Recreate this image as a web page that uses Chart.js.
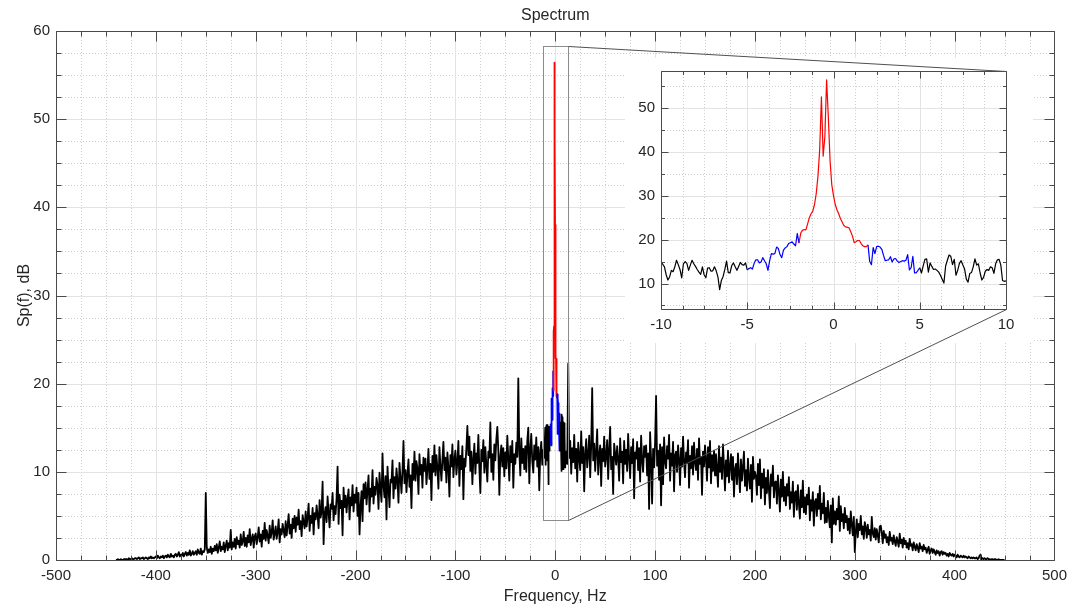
<!DOCTYPE html>
<html>
<head>
<meta charset="utf-8">
<title>Spectrum</title>
<script src="https://cdn.jsdelivr.net/npm/chart.js@4.4.1/dist/chart.umd.min.js"></script>
<style>
	html, body { margin: 0; padding: 0; background: #fff; }
	#wrap { position: relative; width: 1074px; height: 606px; }
	#wrap canvas { position: absolute; left: 0; top: 0; }
</style>
</head>
<body>
<div id="wrap">
	<canvas id="chartMain" width="1074" height="606"></canvas>
	<canvas id="chartZoom" width="1074" height="606"></canvas>
</div>
<script>
// ---- data ----
// spectrum below -10 Hz, 1 Hz step starting at -440 Hz
const negStart = -440;
const negVals = [
	0, 0, 0.1, 0, 0, 0.1, 0, 0, 0.1, 0.1,
	0.1, 0.1, 0, 0.2, 0.1, 0.1, 0.2, 0.1, 0.1, 0.2,
	0.2, 0.1, 0.2, 0.3, 0.1, 0.2, 0.2, 0.3, 0.1, 0.2,
	0.3, 0.2, 0.1, 0.3, 0.2, 0.4, 0.2, 0.3, 0.2, 0.3,
	0.4, 0.2, 0.5, 0.3, 0.2, 0.4, 0.3, 0.5, 0.2, 0.4,
	0.5, 0.3, 0.6, 0.4, 0.3, 0.7, 0.4, 0.5, 0.3, 0.6,
	0.7, 0.4, 0.6, 0.9, 0.4, 0.6, 0.5, 0.8, 0.4, 0.7,
	0.9, 0.5, 0.8, 0.6, 1.1, 0.5, 0.7, 1.0, 0.6, 0.8,
	1.0, 0.6, 1.2, 0.8, 0.7, 1.3, 0.6, 1.0, 0.9, 1.2,
	7.6, 1.4, 0.8, 1.2, 0.9, 1.5, 0.7, 1.3, 1.0, 1.6,
	1.1, 1.8, 0.8, 1.4, 2.1, 1.0, 1.5, 1.2, 2.0, 0.9,
	1.6, 2.2, 1.1, 1.9, 1.4, 3.4, 1.2, 2.0, 1.5, 2.4,
	1.3, 2.6, 1.8, 2.2, 1.4, 2.9, 1.7, 2.1, 3.2, 1.6,
	2.5, 1.5, 2.8, 2.0, 3.5, 1.7, 2.4, 2.9, 1.4, 2.7,
	3.0, 1.8, 2.6, 3.7, 2.1, 2.9, 1.5, 3.3, 2.4, 4.2,
	2.2, 3.4, 2.7, 1.9, 3.9, 2.5, 3.1, 4.5, 2.3, 3.0,
	3.8, 2.4, 3.2, 4.6, 2.0, 3.5, 2.9, 4.1, 3.3, 2.6,
	4.4, 2.8, 3.9, 5.2, 3.0, 4.0, 2.5, 4.7, 3.6, 5.0,
	3.2, 4.8, 4.0, 5.7, 3.5, 4.4, 2.7, 5.1, 4.3, 3.6,
	5.5, 3.8, 4.9, 6.4, 3.3, 5.0, 4.2, 5.9, 2.9, 5.3,
	4.6, 6.2, 5.0, 3.6, 6.8, 4.8, 5.5, 8.9, 1.8, 5.2,
	6.0, 4.3, 7.2, 5.4, 3.7, 6.3, 5.8, 7.6, 4.5, 6.1,
	5.2, 7.0, 10.6, 4.1, 7.4, 5.9, 6.7, 2.8, 8.2, 6.0,
	7.3, 5.4, 6.9, 8.0, 4.6, 7.1, 6.2, 8.5, 5.5, 7.4,
	6.5, 8.2, 5.0, 7.6, 2.9, 6.1, 7.8, 4.4, 8.6, 7.0,
	8.8, 6.3, 7.9, 9.6, 5.5, 8.1, 7.2, 10.2, 6.4, 8.3,
	7.4, 9.3, 8.5, 5.8, 9.9, 8.0, 6.6, 12.1, 8.4, 7.1,
	9.5, 4.6, 10.6, 8.2, 6.0, 9.1, 8.8, 11.3, 7.0, 9.4,
	8.1, 10.4, 9.0, 6.5, 11.0, 9.3, 7.6, 10.1, 13.5, 8.7,
	10.2, 7.7, 9.8, 11.4, 8.3, 9.6, 5.9, 10.9, 9.1, 12.3,
	9.0, 11.2, 10.4, 7.5, 12.0, 9.7, 10.8, 8.2, 11.6, 10.1,
	11.5, 8.6, 10.3, 12.6, 9.2, 10.9, 6.8, 11.8, 10.0, 13.0,
	9.6, 11.9, 10.4, 8.1, 12.8, 10.7, 9.0, 11.3, 13.4, 10.2,
	11.6, 8.8, 12.2, 10.5, 7.2, 11.9, 10.6, 13.1, 9.4, 11.4,
	12.4, 9.7, 11.1, 13.5, 8.4, 11.8, 10.3, 12.9, 6.9, 11.5,
	10.6, 12.7, 15.2, 11.9, 14.0, 10.1, 12.3, 8.6, 11.4, 13.2,
	9.8, 12.1, 11.0, 14.2, 10.4, 7.6, 12.5, 11.2, 13.6, 9.9,
	12.8, 10.7, 8.9, 12.3, 11.6, 15.6, 10.0, 12.0, 9.1, 13.1,
	11.3, 13.7, 15.1, 12.4, 7.4, 11.8, 13.0, 10.6, 12.7, 9.5,
	12.2, 10.4, 14.1, 11.5, 9.0, 12.9, 11.1, 13.5, 8.2, 12.0,
	10.9, 13.3, 11.7, 20.6, 12.4, 9.6, 13.8, 11.0, 12.6, 10.3,
	12.9, 10.0, 13.5, 15.0, 8.7, 12.5, 14.3, 11.2, 9.9, 13.0,
	11.4, 13.9, 10.6, 12.8, 7.9, 12.2, 13.4, 10.8, 12.5, 11.6,
];

// centre of the spectrum, -10 .. 10 Hz in 0.1 Hz steps (also the zoom panel)
const zoomStart = -10;
const zoomStep = 0.1;
const zoomVals = [
	15.0, 14.4, 13.8, 12.0, 10.8, 11.5, 13.0, 12.7, 13.8, 15.3,
	14.3, 13.2, 11.3, 14.5, 15.0, 14.6, 13.0, 14.2, 15.3, 14.5,
	13.9, 13.2, 12.6, 12.1, 13.8, 12.0, 11.3, 13.5, 13.6, 12.8,
	12.9, 13.8, 12.9, 11.5, 8.6, 10.7, 11.6, 13.2, 15.1, 12.5,
	12.4, 14.1, 14.7, 13.8, 13.0, 13.9, 14.8, 14.3, 14.2, 14.7,
	13.1, 13.4, 13.6, 13.3, 14.6, 15.4, 15.4, 14.7, 14.9, 15.9,
	15.2, 14.5, 13.0, 15.2, 16.8, 16.7, 16.8, 18.3, 18.0, 16.6,
	15.9, 17.6, 18.1, 18.4, 19.1, 19.3, 19.5, 19.0, 18.6, 21.4,
	19.2, 21.5, 22.1, 22.3, 22.2, 23.6, 25.0, 25.9, 26.5, 28.0,
	30.5, 34.5, 40.5, 52.5, 39.0, 43.5, 56.4, 48.0, 38.0, 32.5,
	30.0, 28.0, 26.8, 25.9, 24.8, 24.0, 23.2, 22.9, 22.8, 22.7,
	21.8, 20.8, 19.3, 19.5, 19.8, 19.8, 19.1, 18.6, 18.4, 18.4,
	18.8, 15.0, 14.3, 18.2, 16.8, 18.4, 18.5, 18.3, 17.8, 16.4,
	15.2, 15.3, 15.4, 16.1, 14.9, 15.6, 15.7, 15.1, 14.8, 15.0,
	15.2, 15.1, 15.3, 16.6, 13.1, 13.6, 16.2, 12.4, 12.5, 13.0,
	13.6, 12.4, 14.0, 15.5, 15.6, 12.6, 14.7, 13.9, 13.2, 13.3,
	13.0, 12.6, 11.9, 11.0, 10.1, 14.0, 15.3, 16.5, 16.2, 14.3,
	15.5, 11.9, 13.0, 14.6, 15.2, 14.2, 13.3, 11.0, 10.3, 12.3,
	12.5, 13.8, 15.6, 14.2, 14.5, 12.4, 10.8, 11.4, 12.8, 13.2,
	13.0, 13.8, 13.6, 12.3, 14.5, 15.4, 15.5, 14.2, 10.7, 10.5,
	10.6,
];

// spectrum above 10 Hz, 1 Hz step starting at 11 Hz
const posStart = 11;
const posVals = [
	12.3, 10.9, 22.3, 11.6, 13.5, 9.8, 12.7, 11.1, 14.2, 10.4,
	12.6, 8.9, 13.3, 11.7, 10.2, 14.6, 11.0, 12.8, 7.8, 12.1,
	13.7, 10.5, 12.0, 14.1, 9.4, 12.9, 19.5, 11.3, 13.2, 10.1,
	12.4, 14.8, 9.7, 11.9, 13.0, 8.4, 12.6, 11.2, 14.0, 10.6,
	11.8, 13.6, 9.2, 12.5, 15.1, 10.3, 11.7, 7.5, 13.2, 12.0,
	10.8, 12.9, 11.4, 9.0, 13.8, 11.1, 12.3, 8.7, 13.5, 10.9,
	12.5, 10.1, 14.3, 11.6, 9.3, 12.8, 11.0, 13.7, 7.0, 12.2,
	11.5, 13.4, 10.2, 12.7, 8.9, 14.1, 11.3, 10.0, 12.9, 11.7,
	13.0, 9.6, 12.1, 5.8, 14.5, 11.4, 6.4, 12.6, 10.5, 13.3,
	18.6, 10.7, 12.4, 9.1, 13.1, 6.2, 12.8, 8.6, 13.9, 11.2,
	10.4, 12.9, 11.5, 14.2, 9.0, 12.1, 10.7, 13.4, 7.8, 11.9,
	12.3, 10.0, 13.0, 11.4, 8.5, 12.7, 10.6, 14.0, 11.1, 9.4,
	12.2, 11.0, 13.6, 8.2, 11.8, 10.4, 12.9, 9.7, 13.3, 11.1,
	10.2, 12.6, 9.1, 13.8, 10.9, 11.7, 7.4, 12.3, 10.6, 13.0,
	11.4, 9.0, 12.8, 10.5, 13.5, 8.7, 11.9, 10.1, 12.4, 9.6,
	12.0, 10.4, 8.3, 12.9, 10.0, 11.6, 9.2, 13.1, 10.7, 7.9,
	11.3, 9.5, 12.4, 8.8, 10.6, 12.0, 9.1, 11.7, 7.2, 10.3,
	10.9, 8.6, 12.1, 9.8, 7.7, 11.4, 9.0, 10.5, 12.3, 8.4,
	10.2, 7.9, 11.5, 9.3, 8.1, 10.8, 6.6, 11.7, 9.2, 10.0,
	9.5, 7.4, 10.9, 8.5, 11.4, 7.0, 9.8, 8.2, 10.3, 6.3,
	9.3, 7.6, 10.2, 8.0, 5.9, 9.7, 8.4, 10.7, 7.1, 8.8,
	8.9, 6.4, 9.6, 7.8, 5.5, 9.1, 7.2, 10.0, 6.7, 8.3,
	6.2, 8.6, 7.3, 9.4, 5.8, 7.7, 6.5, 8.9, 4.9, 7.6,
	7.8, 5.7, 8.5, 6.4, 4.7, 7.9, 6.0, 9.0, 5.4, 7.1,
	5.2, 7.4, 6.3, 8.2, 4.5, 6.8, 5.6, 7.7, 3.9, 6.6,
	6.9, 5.0, 7.5, 5.8, 8.4, 4.6, 6.4, 5.3, 7.6, 4.2,
	5.9, 4.3, 6.7, 5.0, 3.7, 6.2, 2.0, 7.0, 4.1, 5.5,
	4.0, 5.8, 4.6, 7.2, 3.3, 6.1, 4.4, 5.2, 3.6, 5.9,
	4.3, 5.0, 3.4, 4.7, 3.0, 5.5, 4.0, 2.8, 4.9, 0.9,
	3.2, 4.6, 2.6, 4.1, 3.4, 5.0, 2.9, 3.8, 2.4, 4.3,
	3.7, 2.5, 4.0, 2.9, 3.4, 2.2, 4.9, 3.0, 2.6, 3.6,
	2.3, 3.5, 2.8, 2.0, 3.8, 3.9, 3.1, 1.9, 3.3, 2.5,
	2.9, 2.0, 2.6, 1.7, 3.2, 2.2, 2.5, 1.8, 2.8, 2.1,
	1.6, 2.6, 2.1, 1.5, 3.0, 1.9, 2.3, 1.4, 2.5, 1.8,
	2.2, 1.4, 1.9, 1.2, 2.4, 1.6, 1.8, 1.1, 2.0, 1.5,
	1.1, 1.8, 1.4, 0.9, 1.9, 1.3, 1.5, 1.0, 1.7, 1.2,
	1.4, 0.8, 1.2, 1.5, 0.7, 1.1, 1.3, 0.8, 1.2, 0.9,
	0.6, 1.1, 0.8, 1.0, 0.5, 0.9, 1.0, 0.6, 0.9, 0.7,
	0.8, 0.5, 0.7, 0.4, 0.8, 0.6, 0.5, 0.7, 0.4, 0.6,
	0.5, 0.3, 0.6, 0.4, 0.3, 0.5, 0.4, 0.3, 0.5, 0.3,
	0.4, 0.3, 0.2, 0.4, 0.3, 0.2, 0.3, 0.2, 0.3, 0.2,
	0.2, 0.3, 0.1, 0.2, 0.5, 0.6, 0.1, 0.2, 0.1, 0.2,
	0.1, 0.1, 0.2, 0.1, 0.1, 0, 0.1, 0.1, 0, 0.1,
	0.1, 0, 0, 0.1, 0, 0, 0, 0, 0, 0,
];

const mainXTicks = [-500, -400, -300, -200, -100, 0, 100, 200, 300, 400, 500];
const mainYTicks = [0, 10, 20, 30, 40, 50, 60];
const zoomXTicks = [-10, -5, 0, 5, 10];
const zoomYTicks = [10, 20, 30, 40, 50];

// colour bands around the carrier (Hz)
const redBand = 2;
const blueBand = 5;

// zoomed region marked on the main plot
const zoomRectX = [-12, 13];
const zoomRectY = [4.5, 58.3];

// ---- helpers ----
const FONT = "'Liberation Sans', Arial, Helvetica, sans-serif";
const TEXT = "#262626";
Chart.defaults.font.family = FONT;
Chart.defaults.font.size = 15;
Chart.defaults.color = TEXT;

const toPoints = (start, step, vals) =>
	vals.map((v, i) => ({ x: Math.round((start + i * step) * 10) / 10, y: v }));

const zoomPoints = toPoints(zoomStart, zoomStep, zoomVals);
const mainPoints = [
	...toPoints(negStart, 1, negVals),
	...zoomPoints,
	...toPoints(posStart, 1, posVals),
];

const bandColor = (ctx) => {
	const f = Math.abs((ctx.p0.parsed.x + ctx.p1.parsed.x) / 2);
	if (f < redBand) return "#ff0000";
	if (f < blueBand) return "#0000ff";
	return "#000000";
};

const gridValues = (min, max, step) => {
	const out = [];
	for (let k = Math.ceil(min / step - 1e-9); k * step <= max + 1e-9; k++) out.push(k * step);
	return out;
};
const isMajor = (v, step) => Math.abs(v / step - Math.round(v / step)) < 1e-6;
const crisp = (p) => Math.round(p) + 0.5;

// MATLAB style grid (solid major, dotted minor), box and inward ticks
const matlabAxes = {
	id: "matlabAxes",
	beforeDatasetsDraw(chart, args, o) {
		const { ctx, chartArea: a, scales: { x, y } } = chart;
		ctx.save();
		ctx.lineWidth = 1;
		const xs = gridValues(x.min, x.max, o.xMinor);
		const ys = gridValues(y.min, y.max, o.yMinor);
		[false, true].forEach((major) => {
			ctx.strokeStyle = major ? "#e3e3e3" : "#cdcdcd";
			ctx.setLineDash(major ? [] : [1, 2]);
			ctx.beginPath();
			xs.filter((v) => isMajor(v, o.xMajor) === major).forEach((v) => {
				const px = crisp(x.getPixelForValue(v));
				ctx.moveTo(px, a.top);
				ctx.lineTo(px, a.bottom);
			});
			ys.filter((v) => isMajor(v, o.yMajor) === major).forEach((v) => {
				const py = crisp(y.getPixelForValue(v));
				ctx.moveTo(a.left, py);
				ctx.lineTo(a.right, py);
			});
			ctx.stroke();
		});
		ctx.restore();
	},
	afterDatasetsDraw(chart, args, o) {
		const { ctx, chartArea: a, scales: { x, y } } = chart;
		const l = crisp(a.left), r = crisp(a.right), t = crisp(a.top), b = crisp(a.bottom);
		ctx.save();
		ctx.strokeStyle = "#4a4a4a";
		ctx.lineWidth = 1;
		ctx.beginPath();
		ctx.rect(l, t, r - l, b - t);
		gridValues(x.min, x.max, o.xMinor).forEach((v) => {
			const px = crisp(x.getPixelForValue(v));
			const len = isMajor(v, o.xMajor) ? o.majorLen : o.minorLen;
			ctx.moveTo(px, b); ctx.lineTo(px, b - len);
			ctx.moveTo(px, t); ctx.lineTo(px, t + len);
		});
		gridValues(y.min, y.max, o.yMinor).forEach((v) => {
			const py = crisp(y.getPixelForValue(v));
			const len = isMajor(v, o.yMajor) ? o.majorLen : o.minorLen;
			ctx.moveTo(l, py); ctx.lineTo(l + len, py);
			ctx.moveTo(r, py); ctx.lineTo(r - len, py);
		});
		ctx.stroke();
		ctx.restore();
	},
};

// rectangle showing the zoomed region on the main plot
const zoomMarker = {
	id: "zoomMarker",
	afterDatasetsDraw(chart) {
		const { ctx, scales: { x, y } } = chart;
		const l = crisp(x.getPixelForValue(zoomRectX[0]));
		const r = crisp(x.getPixelForValue(zoomRectX[1]));
		const t = crisp(y.getPixelForValue(zoomRectY[1]));
		const b = crisp(y.getPixelForValue(zoomRectY[0]));
		ctx.save();
		ctx.strokeStyle = "#8c8c8c";
		ctx.lineWidth = 1;
		ctx.strokeRect(l, t, r - l, b - t);
		ctx.restore();
	},
};

let mainChart = null;

// white panel under the inset and the two connector lines
const insetFrame = {
	id: "insetFrame",
	beforeDraw(chart) {
		const { ctx, chartArea: a } = chart;
		ctx.save();
		ctx.fillStyle = "#ffffff";
		ctx.fillRect(a.left - 36, a.top - 13, a.width + 63, a.height + 47);
		ctx.restore();
	},
	afterDraw(chart) {
		if (!mainChart) return;
		const { ctx, chartArea: a } = chart;
		const mx = mainChart.scales.x, my = mainChart.scales.y;
		const rx = crisp(mx.getPixelForValue(zoomRectX[1]));
		const rt = crisp(my.getPixelForValue(zoomRectY[1]));
		const rb = crisp(my.getPixelForValue(zoomRectY[0]));
		ctx.save();
		ctx.strokeStyle = "#505050";
		ctx.lineWidth = 1;
		ctx.beginPath();
		ctx.moveTo(rx, rt);
		ctx.lineTo(crisp(a.right), crisp(a.top));
		ctx.moveTo(rx, rb);
		ctx.lineTo(crisp(a.right), crisp(a.bottom));
		ctx.stroke();
		ctx.restore();
	},
};

const fixedTicks = (list) => (scale) => {
	scale.ticks = list.map((v) => ({ value: v }));
};

// ---- main chart ----
mainChart = new Chart(document.getElementById("chartMain"), {
	type: "line",
	data: {
		datasets: [
			{
				data: mainPoints,
				borderColor: "#000000",
				borderWidth: 1.8,
				borderJoinStyle: "round",
				pointRadius: 0,
				tension: 0,
				segment: { borderColor: bandColor },
			},
		],
	},
	options: {
		responsive: false,
		animation: false,
		events: [],
		layout: { padding: { left: 0, right: 18, top: 0, bottom: 0 } },
		plugins: {
			legend: { display: false },
			tooltip: { enabled: false },
			title: {
				display: true,
				text: "Spectrum",
				fullSize: false,
				color: TEXT,
				font: { size: 16, weight: "normal" },
				padding: { top: 6, bottom: 5.8 },
			},
			matlabAxes: { xMinor: 25, xMajor: 100, yMinor: 2.5, yMajor: 10, majorLen: 10, minorLen: 5 },
		},
		scales: {
			x: {
				type: "linear",
				min: -500,
				max: 500,
				grid: { display: false, drawTicks: false },
				border: { display: false },
				afterBuildTicks: fixedTicks(mainXTicks),
				afterFit: (s) => { s.height = 46; },
				ticks: { padding: 7, maxRotation: 0, autoSkip: false, callback: (v) => String(v) },
				title: { display: true, text: "Frequency, Hz", font: { size: 16 }, padding: { top: 0, bottom: 0 } },
			},
			y: {
				type: "linear",
				min: 0,
				max: 60,
				grid: { display: false, drawTicks: false },
				border: { display: false },
				afterBuildTicks: fixedTicks(mainYTicks),
				afterFit: (s) => { s.width = 56; },
				ticks: { padding: 6, autoSkip: false, callback: (v) => String(v) },
				title: { display: true, text: "Sp(f), dB", font: { size: 16 }, padding: { top: 15, bottom: 0 } },
			},
		},
	},
	plugins: [matlabAxes, zoomMarker],
});

// ---- zoom inset ----
new Chart(document.getElementById("chartZoom"), {
	type: "line",
	data: {
		datasets: [
			{
				data: zoomPoints,
				borderColor: "#000000",
				borderWidth: 1.2,
				borderJoinStyle: "round",
				pointRadius: 0,
				tension: 0,
				segment: { borderColor: bandColor },
			},
		],
	},
	options: {
		responsive: false,
		animation: false,
		events: [],
		layout: { padding: { left: 625, right: 68, top: 71, bottom: 263 } },
		plugins: {
			legend: { display: false },
			tooltip: { enabled: false },
			matlabAxes: { xMinor: 1.25, xMajor: 5, yMinor: 5, yMajor: 10, majorLen: 7, minorLen: 3.5 },
		},
		scales: {
			x: {
				type: "linear",
				min: -10,
				max: 10,
				grid: { display: false, drawTicks: false },
				border: { display: false },
				afterBuildTicks: fixedTicks(zoomXTicks),
				afterFit: (s) => { s.height = 34; },
				ticks: { padding: 7, maxRotation: 0, autoSkip: false, callback: (v) => String(v) },
			},
			y: {
				type: "linear",
				min: 4.2,
				max: 58.4,
				grid: { display: false, drawTicks: false },
				border: { display: false },
				afterBuildTicks: fixedTicks(zoomYTicks),
				afterFit: (s) => { s.width = 36; },
				ticks: { padding: 6, autoSkip: false, callback: (v) => String(v) },
			},
		},
	},
	plugins: [insetFrame, matlabAxes],
});
</script>
</body>
</html>
